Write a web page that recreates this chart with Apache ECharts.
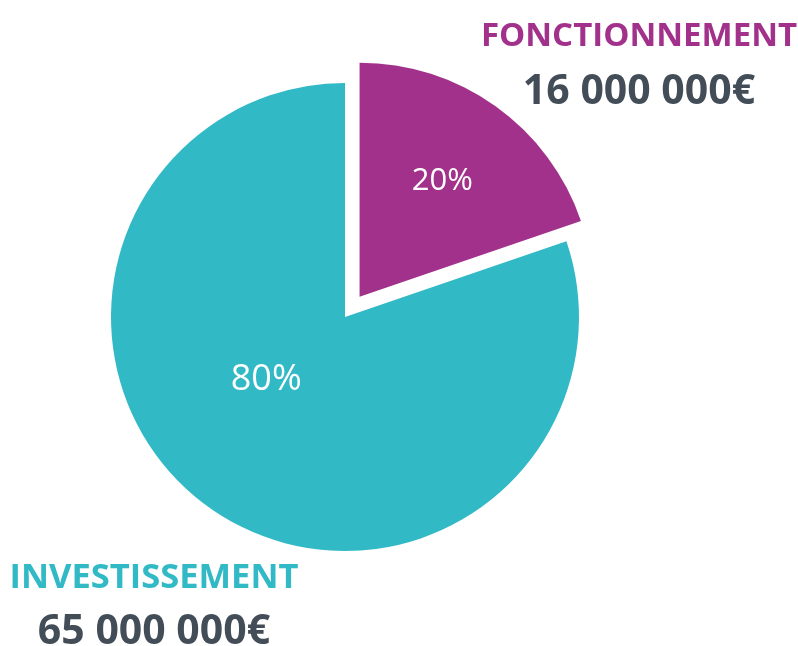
<!DOCTYPE html>
<html>
<head>
<meta charset="utf-8">
<script src="https://cdn.jsdelivr.net/npm/echarts@6/dist/echarts.min.js"></script>
<style>
  html, body { margin: 0; padding: 0; background: #fff; }
</style>
</head>
<body>
<!-- conteneur du graphique -->
<div id="main" style="width: 798px; height: 646px"></div>
<script>
// données
var categories = ["FONCTIONNEMENT", "INVESTISSEMENT"];
var amounts = [16000000, 65000000];
var colors = ["#a2318b", "#32b9c6"];

// 16000000 -> "16 000 000€"
function formatAmount(v) {
  return String(v).replace(/\B(?=(\d{3})+(?!\d))/g, " ") + "€";
}

var textColor = "#434d58";
var font = "'Open Sans', 'Noto Sans', sans-serif";

// position des libellés extérieurs
var outerLabels = [
  { x: 639, y1: 37, y2: 92, size1: 33 },
  { x: 154, y1: 578, y2: 632, size1: 34.5 }
];

var graphics = [];
categories.forEach(function (name, i) {
  graphics.push({
    type: "text",
    style: {
      x: outerLabels[i].x, y: outerLabels[i].y1,
      text: name,
      fill: colors[i],
      font: "bold " + outerLabels[i].size1 + "px " + font,
      textAlign: "center",
      textVerticalAlign: "middle"
    }
  });
  graphics.push({
    type: "text",
    style: {
      x: outerLabels[i].x, y: outerLabels[i].y2,
      text: formatAmount(amounts[i]),
      fill: textColor,
      font: "bold 41px " + font,
      textAlign: "center",
      textVerticalAlign: "middle"
    }
  });
});

var labelShift = [[13, -18], [-9, -35]];
var labelSize = [31, 36];

var option = {
  animation: false,
  series: [
    {
      type: "pie",
      center: [345, 317],
      radius: 234,
      startAngle: 90,
      clockwise: true,
      selectedMode: "single",
      selectedOffset: 25,
      silent: true,
      label: {
        position: "inside",
        formatter: function (p) { return Math.round(p.percent) + "%"; },
        color: "#fff",
        fontFamily: font,
        fontWeight: "normal"
      },
      labelLine: { show: false },
      labelLayout: function (p) {
        return { dx: labelShift[p.dataIndex][0], dy: labelShift[p.dataIndex][1] };
      },
      data: categories.map(function (name, i) {
        return {
          name: name,
          value: amounts[i],
          selected: i === 0,
          label: { fontSize: labelSize[i] },
          itemStyle: { color: colors[i] }
        };
      })
    }
  ],
  graphic: graphics
};

var myChart = echarts.init(document.getElementById("main"));
myChart.setOption(option);
</script>
</body>
</html>
